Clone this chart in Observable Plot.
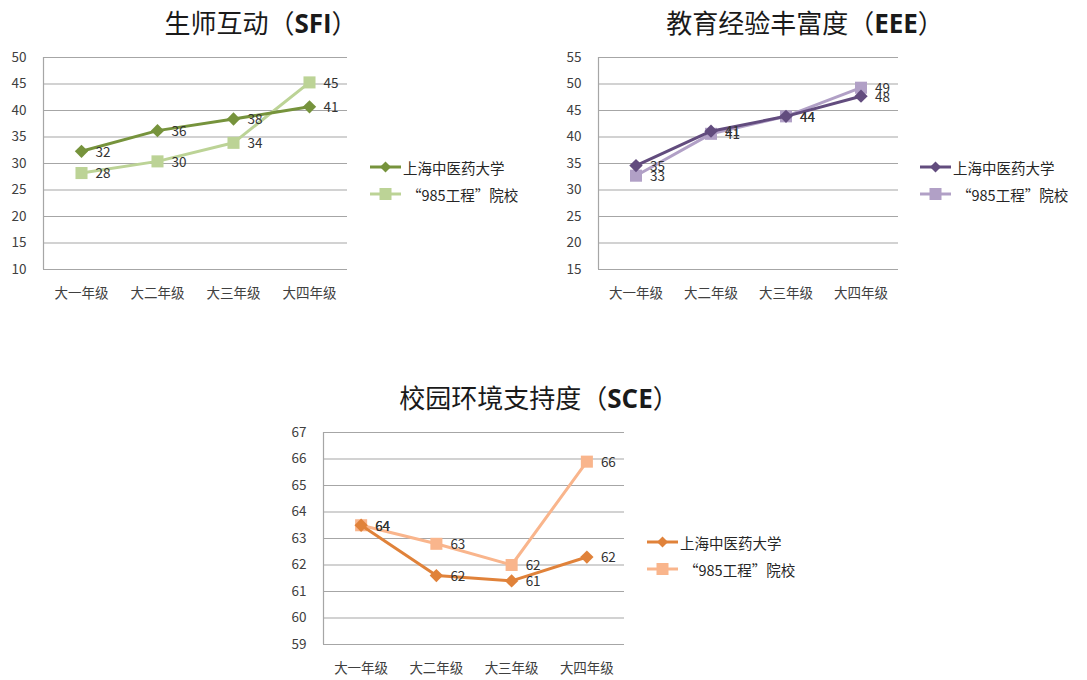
<!DOCTYPE html>
<html><head><meta charset="utf-8">
<script src="https://cdn.jsdelivr.net/npm/d3@7"></script>
<script src="https://cdn.jsdelivr.net/npm/@observablehq/plot@0.6"></script>
<style>
body{margin:0;background:#fff;font-family:"Noto Sans CJK SC","Noto Sans",sans-serif;}
#root{position:relative;width:1087px;height:680px;overflow:hidden;}
.title{position:absolute;font-size:26px;color:#1a1a1a;white-space:nowrap;transform:translate(-50%,-50%);}
.title b{font-family:"Open Sans","Noto Sans",sans-serif;font-weight:700;}
.chart{position:absolute;}
.legend{position:absolute;font-size:14.5px;color:#262626;width:220px;height:60px;}
.legend .item{position:absolute;left:0;white-space:nowrap;display:flex;align-items:center;height:20px;transform:translateY(-50%);}
.legend svg{margin-right:2px;flex-shrink:0;}
</style></head>
<body><div id="root"></div>
<script>
const grades = ["大一年级", "大二年级", "大三年级", "大四年级"];
const seriesNames = ["上海中医药大学", "“985工程”院校"];

const sfiSH = [32.3, 36.2, 38.4, 40.7];
const sfi985 = [28.2, 30.4, 33.9, 45.3];
const sfiTicks = [10, 15, 20, 25, 30, 35, 40, 45, 50];

const eeeSH = [34.6, 41.1, 43.9, 47.7];
const eee985 = [32.7, 40.6, 43.9, 49.3];
const eeeTicks = [15, 20, 25, 30, 35, 40, 45, 50, 55];

const sceSH = [63.5, 61.6, 61.4, 62.3];
const sce985 = [63.5, 62.8, 62.0, 65.9];
const sceTicks = [59, 60, 61, 62, 63, 64, 65, 66, 67];

const root = document.getElementById("root");

function makeChart(cfg) {
  const rows = [];
  cfg.sh.forEach((v, i) => rows.push({s: seriesNames[0], i: i + 0.5, g: grades[i], v}));
  cfg.o.forEach((v, i) => rows.push({s: seriesNames[1], i: i + 0.5, g: grades[i], v}));
  const sh = rows.filter(d => d.s === seriesNames[0]);
  const o = rows.filter(d => d.s === seriesNames[1]);
  const yd = [cfg.ticks[0], cfg.ticks[cfg.ticks.length - 1]];
  const plot = Plot.plot({
    width: 360, height: 260,
    marginLeft: cfg.ml, marginRight: 360 - cfg.ml - cfg.pw, marginTop: 17, marginBottom: 31,
    style: {fontFamily: '"Noto Sans CJK SC", sans-serif', fontSize: "13px", color: "#404040", background: "transparent", overflow: "visible"},
    x: {domain: [0, 4], axis: null},
    y: {domain: yd, axis: null},
    marks: [
      Plot.ruleY(cfg.ticks, {stroke: "#a6a6a6", strokeWidth: 1.2}),
      Plot.ruleX([0], {stroke: "#a6a6a6", strokeWidth: 1.2}),
      Plot.axisY({ticks: cfg.ticks, tickSize: 0, tickPadding: 17, fontSize: 13.5, fill: "#404040", label: null}),
      Plot.axisX({ticks: [0.5, 1.5, 2.5, 3.5], tickFormat: d => grades[Math.floor(d)], tickSize: 0, tickPadding: 19, fontSize: 13.5, fill: "#404040", label: null}),
      Plot.line(o, {x: "i", y: "v", stroke: cfg.c2, strokeWidth: 3}),
      Plot.dot(o, {x: "i", y: "v", symbol: "square", r: 6.8, fill: cfg.c2}),
      Plot.line(sh, {x: "i", y: "v", stroke: cfg.c1, strokeWidth: 3}),
      Plot.dot(sh, {x: "i", y: "v", symbol: "diamond2", r: 6, fill: cfg.c1}),
      Plot.text(rows, {x: "i", y: "v", text: d => Math.round(d.v), dx: 14, dy: 1, textAnchor: "start", fill: "#333", fontSize: 13.5})
    ]
  });
  const wrap = document.createElement("div");
  wrap.className = "chart";
  wrap.style.left = cfg.left + "px";
  wrap.style.top = cfg.top + "px";
  wrap.appendChild(plot);
  root.appendChild(wrap);

  const t = document.createElement("div");
  t.className = "title";
  t.style.left = cfg.tx + "px";
  t.style.top = cfg.ty + "px";
  t.innerHTML = cfg.title + "（<b>" + cfg.abbr + "</b>）";
  root.appendChild(t);

  const lg = document.createElement("div");
  lg.className = "legend";
  lg.style.left = cfg.lx + "px";
  lg.style.top = cfg.ly + "px";
  seriesNames.forEach((name, k) => {
    const it = document.createElement("div");
    it.className = "item";
    it.style.top = (k * 27) + "px";
    const col = k === 0 ? cfg.c1 : cfg.c2;
    const marker = k === 0
      ? `<path d="M15.5,4.5 l5.5,5.5 l-5.5,5.5 l-5.5,-5.5z" fill="${col}"/>`
      : `<rect x="9.5" y="4" width="12" height="12" fill="${col}"/>`;
    it.innerHTML = `<svg width="31" height="20"><line x1="0" x2="31" y1="10" y2="10" stroke="${col}" stroke-width="3"/>${marker}</svg><span style="${k===1?'margin-left:4px':''}">${name}</span>`;
    lg.appendChild(it);
  });
  root.appendChild(lg);
}

makeChart({title: "生师互动", abbr: "SFI", sh: sfiSH, o: sfi985, ticks: sfiTicks,
  c1: "#76933c", c2: "#bcd396", left: 0, top: 40, ml: 43, pw: 304,
  tx: 261, ty: 22, lx: 370, ly: 167});
makeChart({title: "教育经验丰富度", abbr: "EEE", sh: eeeSH, o: eee985, ticks: eeeTicks,
  c1: "#624c7e", c2: "#b1a0c6", left: 545, top: 40, ml: 53, pw: 300,
  tx: 805, ty: 22, lx: 920, ly: 167});
makeChart({title: "校园环境支持度", abbr: "SCE", sh: sceSH, o: sce985, ticks: sceTicks,
  c1: "#e0823a", c2: "#f9b58c", left: 280, top: 415, ml: 43, pw: 301,
  tx: 539, ty: 397, lx: 647, ly: 542});
</script></body></html>
